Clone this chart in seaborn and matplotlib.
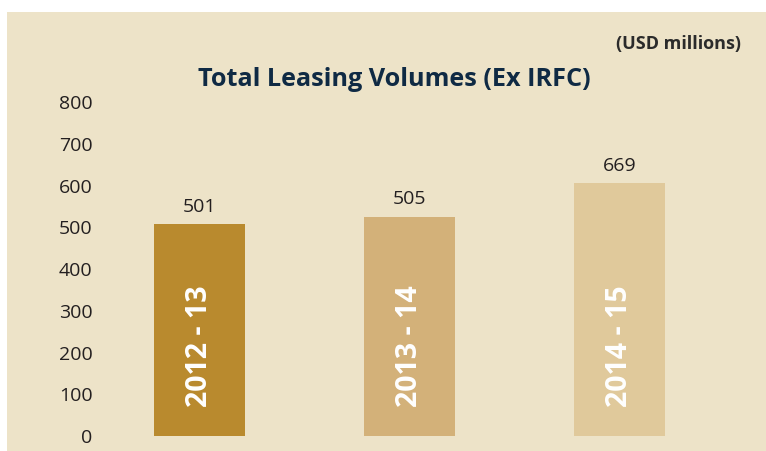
import matplotlib
matplotlib.use("Agg")
import matplotlib.pyplot as plt
import pandas as pd
import seaborn as sns
from matplotlib.patches import Rectangle

# Data
periods = ["2012 - 13", "2013 - 14", "2014 - 15"]
value_labels = [501, 505, 669]          # printed values
bar_heights = [508, 525, 606]           # drawn bar heights as seen in the picture
bar_colors = ["#B98A2E", "#D3B179", "#E0C99B"]
y_ticks = [0, 100, 200, 300, 400, 500, 600, 700, 800]

BG = "#EDE3C8"
df = pd.DataFrame({"Period": periods, "Height": bar_heights})

sns.set_theme(style="white")
plt.rcParams["font.family"] = ["Open Sans", "DejaVu Sans"]

fig = plt.figure(figsize=(7.66, 4.51), dpi=100, facecolor="white")
fig.patches.append(Rectangle((7 / 766, 0), 1, (451 - 12) / 451,
                             transform=fig.transFigure, facecolor=BG,
                             edgecolor="none", zorder=-10))
ax = fig.add_axes([0.137, 0.0193, 0.9595 - 0.137, 0.8016 - 0.0193])
ax.set_facecolor("none")

sns.barplot(data=df, x="Period", y="Height", hue="Period",
            palette=bar_colors, width=0.43, legend=False, ax=ax,
            saturation=1, linewidth=0, edgecolor="none")

for i, (h, v, lab) in enumerate(zip(bar_heights, value_labels, periods)):
    ax.annotate(str(v), (i, h), xytext=(0, 6), textcoords="offset points",
                ha="center", va="bottom", fontsize=14, color="#231F20")
    ax.text(i, 215, lab, rotation=90, ha="center", va="center",
            fontsize=20.5, fontweight="bold", color="white")

ax.set_xlim(-0.45, 2.55)
ax.set_ylim(-15, 830)
ax.set_yticks(y_ticks)
ax.set_yticklabels([str(t) for t in y_ticks], fontsize=14, color="#231F20")
ax.tick_params(axis="y", length=0, pad=9)
ax.set_xticks([])
ax.set_xlabel("")
ax.set_ylabel("")
for s in ax.spines.values():
    s.set_visible(False)

fig.text(394 / 766, 1 - 80 / 451, "Total Leasing Volumes (Ex IRFC)",
         ha="center", va="center", fontsize=18.2, fontweight="bold",
         color="#0F2A44")
fig.text(741 / 766, 1 - 44 / 451, "(USD millions)", ha="right", va="center",
         fontsize=13, fontweight="bold", color="#2B2B2B")

fig.savefig("out.png", dpi=100, facecolor=fig.get_facecolor())
